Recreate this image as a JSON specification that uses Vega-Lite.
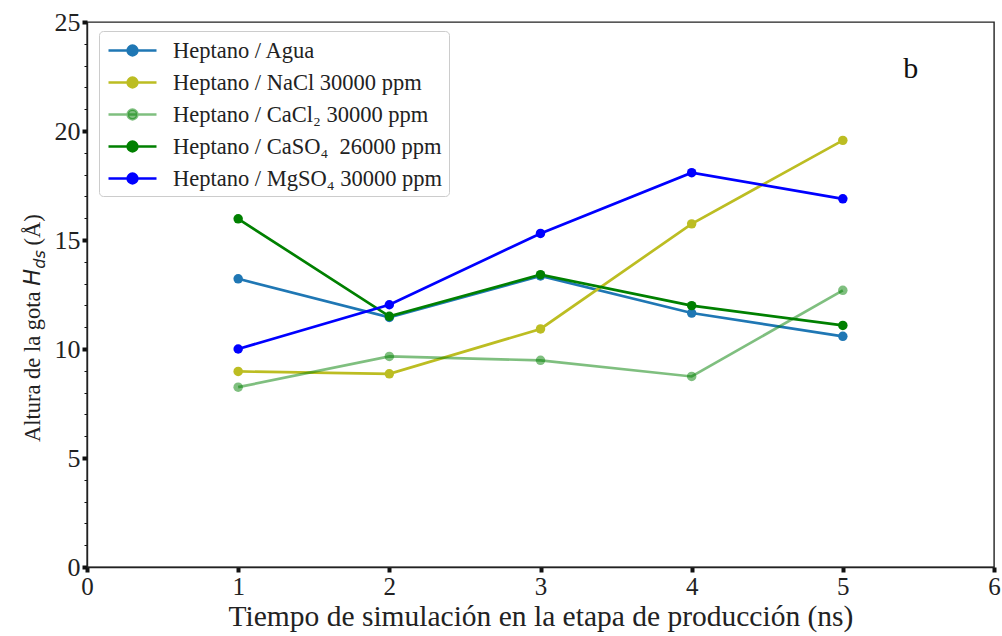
{
  "$schema": "https://vega.github.io/schema/vega-lite/v6.json",
  "width": 907,
  "height": 545,
  "autosize": {"type": "none"},
  "padding": {"left": 87, "top": 22, "right": 8, "bottom": 69},
  "background": "white",
  "config": {
    "font": "Liberation Serif",
    "view": {"stroke": "#222222", "strokeWidth": 1.4}
  },
  "data": {
    "values": [
      {"t": 1, "h": 13.22, "serie": "Heptano / Agua"},
      {"t": 2, "h": 11.45, "serie": "Heptano / Agua"},
      {"t": 3, "h": 13.35, "serie": "Heptano / Agua"},
      {"t": 4, "h": 11.65, "serie": "Heptano / Agua"},
      {"t": 5, "h": 10.58, "serie": "Heptano / Agua"},
      {"t": 1, "h": 8.97, "serie": "Heptano / NaCl 30000 ppm"},
      {"t": 2, "h": 8.86, "serie": "Heptano / NaCl 30000 ppm"},
      {"t": 3, "h": 10.92, "serie": "Heptano / NaCl 30000 ppm"},
      {"t": 4, "h": 15.74, "serie": "Heptano / NaCl 30000 ppm"},
      {"t": 5, "h": 19.57, "serie": "Heptano / NaCl 30000 ppm"},
      {"t": 1, "h": 8.25, "serie": "Heptano / CaCl₂ 30000 ppm"},
      {"t": 2, "h": 9.66, "serie": "Heptano / CaCl₂ 30000 ppm"},
      {"t": 3, "h": 9.48, "serie": "Heptano / CaCl₂ 30000 ppm"},
      {"t": 4, "h": 8.74, "serie": "Heptano / CaCl₂ 30000 ppm"},
      {"t": 5, "h": 12.69, "serie": "Heptano / CaCl₂ 30000 ppm"},
      {"t": 1, "h": 15.97, "serie": "Heptano / CaSO₄  26000 ppm"},
      {"t": 2, "h": 11.5, "serie": "Heptano / CaSO₄  26000 ppm"},
      {"t": 3, "h": 13.41, "serie": "Heptano / CaSO₄  26000 ppm"},
      {"t": 4, "h": 11.99, "serie": "Heptano / CaSO₄  26000 ppm"},
      {"t": 5, "h": 11.08, "serie": "Heptano / CaSO₄  26000 ppm"},
      {"t": 1, "h": 10.0, "serie": "Heptano / MgSO₄ 30000 ppm"},
      {"t": 2, "h": 12.03, "serie": "Heptano / MgSO₄ 30000 ppm"},
      {"t": 3, "h": 15.3, "serie": "Heptano / MgSO₄ 30000 ppm"},
      {"t": 4, "h": 18.09, "serie": "Heptano / MgSO₄ 30000 ppm"},
      {"t": 5, "h": 16.89, "serie": "Heptano / MgSO₄ 30000 ppm"}
    ]
  },
  "layer": [
    {
      "mark": {
        "type": "line",
        "strokeWidth": 2.7,
        "point": {"filled": true, "size": 90}
      },
      "encoding": {
        "x": {
          "field": "t",
          "type": "quantitative",
          "scale": {"domain": [0, 6], "nice": false},
          "axis": {
            "values": [0, 0.5, 1, 1.5, 2, 2.5, 3, 3.5, 4, 4.5, 5, 5.5, 6],
            "tickCount": 40,
            "format": "d",
            "labelExpr": "datum.value % 1 === 0 ? datum.label : ''",
            "labelOverlap": false,
            "grid": false,
            "domainColor": "#222222",
            "domainWidth": 1.4,
            "tickColor": "#111111",
            "tickSize": {"condition": {"test": "datum.value % 1 === 0", "value": 5}, "value": 3},
            "tickWidth": {"condition": {"test": "datum.value % 1 === 0", "value": 4}, "value": 1},
            "labelFontSize": 25,
            "labelColor": "#222222",
            "labelPadding": 2,
            "labelFlush": false,
            "title": "Tiempo de simulación en la etapa de producción (ns)",
            "titleFontSize": 29.5,
            "titleFontWeight": "normal",
            "titleColor": "#222222",
            "titlePadding": 3
          }
        },
        "y": {
          "field": "h",
          "type": "quantitative",
          "scale": {"domain": [0, 25], "nice": false},
          "axis": {
            "values": [0, 1, 2, 3, 4, 5, 6, 7, 8, 9, 10, 11, 12, 13, 14, 15, 16, 17, 18, 19, 20, 21, 22, 23, 24, 25],
            "tickCount": 40,
            "format": "d",
            "labelExpr": "datum.value % 5 === 0 ? datum.label : ''",
            "labelOverlap": false,
            "grid": false,
            "domainColor": "#222222",
            "domainWidth": 1.4,
            "tickColor": "#111111",
            "tickSize": {"condition": {"test": "datum.value % 5 === 0", "value": 5}, "value": 3},
            "tickWidth": {"condition": {"test": "datum.value % 5 === 0", "value": 4}, "value": 1},
            "labelFontSize": 26,
            "labelColor": "#222222",
            "labelPadding": 2,
            "labelFlush": false,
            "title": null
          }
        },
        "color": {
          "field": "serie",
          "type": "nominal",
          "sort": null,
          "scale": {
            "domain": [
              "Heptano / Agua",
              "Heptano / NaCl 30000 ppm",
              "Heptano / CaCl₂ 30000 ppm",
              "Heptano / CaSO₄  26000 ppm",
              "Heptano / MgSO₄ 30000 ppm"
            ],
            "range": ["#1f77b4", "#bcbd22", "rgba(0,128,0,0.5)", "#008000", "#0000ff"]
          },
          "legend": {
            "title": null,
            "orient": "none",
            "legendX": 12,
            "legendY": 9,
            "padding": 6,
            "cornerRadius": 4,
            "strokeColor": "#cccccc",
            "fillColor": "rgba(255,255,255,0.85)",
            "labelFont": "Liberation Serif",
            "labelFontSize": 22.5,
            "labelColor": "#222222",
            "labelOffset": 27,
            "labelLimit": 400,
            "labelExpr": "replace(datum.label, '  ', ' \u00a0')",
            "rowPadding": 7,
            "symbolOffset": 14,
            "symbolType": "M-2,0H2M-0.4,0A0.4,0.4,0,1,1,0.4,0A0.4,0.4,0,1,1,-0.4,0Z",
            "symbolSize": 576,
            "symbolStrokeWidth": 2.7,
            "encode": {
              "symbols": {"update": {"fill": {"scale": "color", "field": "value"}}}
            }
          }
        }
      }
    },
    {
      "data": {"values": [{"etiqueta": "b"}]},
      "mark": {"type": "text", "fontSize": 30, "font": "Liberation Serif", "color": "#111111", "align": "center", "baseline": "middle"},
      "encoding": {
        "x": {"datum": 5.45, "type": "quantitative"},
        "y": {"datum": 22.85, "type": "quantitative"},
        "text": {"field": "etiqueta"}
      }
    },
    {
      "data": {"values": [{"titulo": "Altura de la gota"}]},
      "mark": {"type": "text", "fontSize": 22.5, "font": "Liberation Serif", "color": "#222222", "angle": 270, "align": "left", "baseline": "alphabetic", "clip": false},
      "encoding": {
        "x": {"datum": -0.31, "type": "quantitative"},
        "y": {"datum": 5.73, "type": "quantitative"},
        "text": {"field": "titulo"}
      }
    },
    {
      "data": {"values": [{"titulo": "H"}]},
      "mark": {"type": "text", "fontSize": 22.5, "font": "DejaVu Sans", "fontStyle": "italic", "color": "#222222", "angle": 270, "align": "left", "baseline": "alphabetic", "clip": false},
      "encoding": {
        "x": {"datum": -0.31, "type": "quantitative"},
        "y": {"datum": 12.9, "type": "quantitative"},
        "text": {"field": "titulo"}
      }
    },
    {
      "data": {"values": [{"titulo": "ds"}]},
      "mark": {"type": "text", "fontSize": 16, "font": "DejaVu Sans", "fontStyle": "italic", "color": "#222222", "angle": 270, "align": "left", "baseline": "alphabetic", "dy": 5, "clip": false},
      "encoding": {
        "x": {"datum": -0.31, "type": "quantitative"},
        "y": {"datum": 13.68, "type": "quantitative"},
        "text": {"field": "titulo"}
      }
    },
    {
      "data": {"values": [{"titulo": "(Å)"}]},
      "mark": {"type": "text", "fontSize": 22.5, "font": "Liberation Serif", "color": "#222222", "angle": 270, "align": "left", "baseline": "alphabetic", "clip": false},
      "encoding": {
        "x": {"datum": -0.31, "type": "quantitative"},
        "y": {"datum": 14.75, "type": "quantitative"},
        "text": {"field": "titulo"}
      }
    }
  ]
}
